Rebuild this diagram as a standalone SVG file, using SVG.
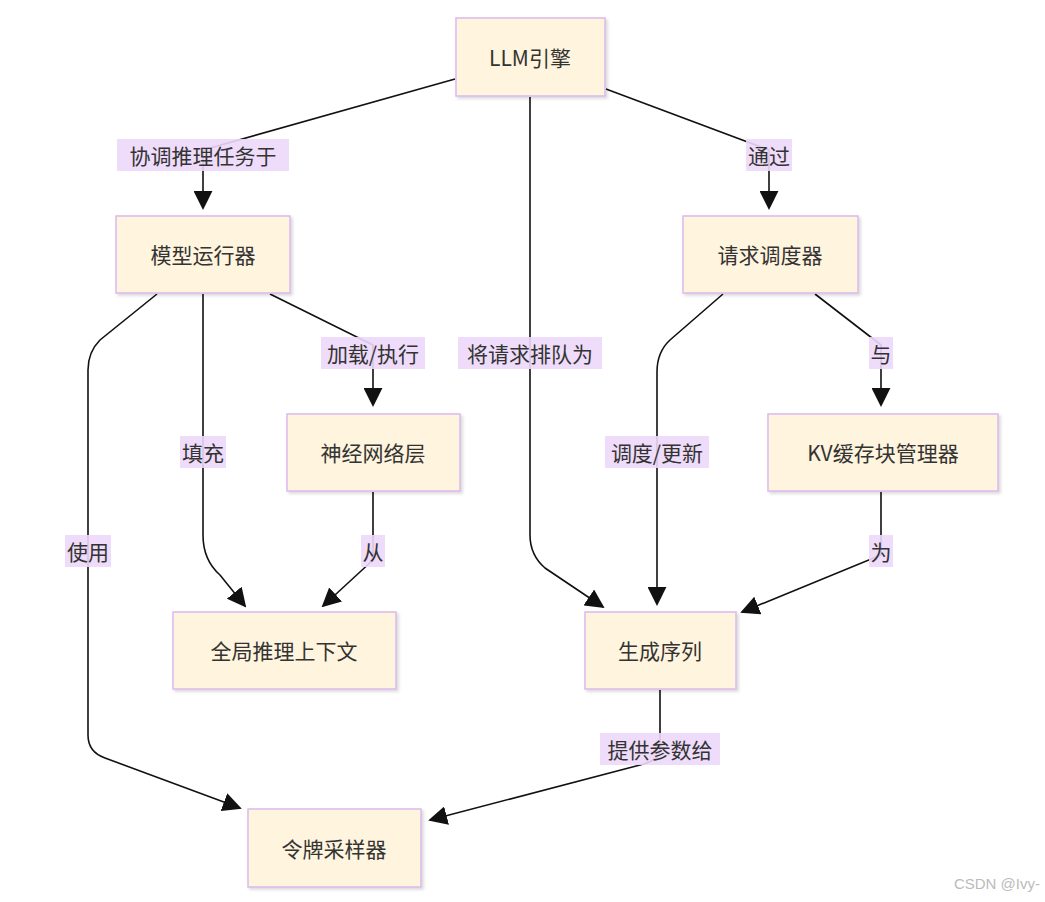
<svg xmlns="http://www.w3.org/2000/svg" width="1045" height="902" viewBox="0 0 1045 902">
<style>
.n rect{fill:#fff4dd;stroke:#dcb8ee;stroke-width:1.5;filter:url(#sh)}
.n text{font-family:"Noto Sans CJK SC","Liberation Sans",sans-serif;font-size:21px;fill:#333;text-anchor:middle;dominant-baseline:central}
.e path{fill:none;stroke:#111;stroke-width:1.6;marker-end:url(#ar)}
.l rect{fill:#ecd8fa;opacity:.9}
.l text{font-family:"Noto Sans CJK SC","Liberation Sans",sans-serif;font-size:21px;fill:#333;text-anchor:middle;dominant-baseline:central}
</style>
<defs>
<marker id="ar" viewBox="0 0 10 10" refX="9" refY="5" markerWidth="19" markerHeight="19" markerUnits="userSpaceOnUse" orient="auto"><path d="M0,0L10,5L0,10z" fill="#111"/></marker>
<filter id="sh" x="-10%" y="-10%" width="130%" height="130%"><feDropShadow dx="2" dy="2" stdDeviation="1.5" flood-color="#000" flood-opacity="0.15"/></filter>
</defs>
<rect width="1045" height="902" fill="#fff"/>
<g id="connectors" class="e">
<path d="M455,79L203,150V208"/>
<path d="M606,89L769,150V208"/>
<path d="M530,97V535Q530,555 545,568L603,607"/>
<path d="M157,294L100,340Q88,352 88,370V735Q88,752 105,758L240,808"/>
<path d="M203,294V535Q203,560 220,575L245,606"/>
<path d="M270,294L373,345V405"/>
<path d="M373,492V560L323,606"/>
<path d="M723,294L670,340Q657,352 657,372V604"/>
<path d="M815,294L881,345V405"/>
<path d="M881,492V555L742,612"/>
<path d="M660,690V750Q660,760 640,765L430,820"/>
</g>
<g class="l">
<rect x="117" y="139" width="172" height="32"/><text x="203" y="155">协调推理任务于</text>
<rect x="746" y="139" width="46" height="32"/><text x="769" y="155">通过</text>
<rect x="458" y="337" width="144" height="32"/><text x="530" y="353">将请求排队为</text>
<rect x="65" y="535" width="46" height="32"/><text x="88" y="551">使用</text>
<rect x="180" y="436" width="46" height="32"/><text x="203" y="452">填充</text>
<rect x="321" y="337" width="104" height="32"/><text x="373" y="353">加载/执行</text>
<rect x="361" y="535" width="24" height="32"/><text x="373" y="551">从</text>
<rect x="605" y="436" width="104" height="32"/><text x="657" y="452">调度/更新</text>
<rect x="869" y="337" width="24" height="32"/><text x="881" y="353">与</text>
<rect x="869" y="535" width="24" height="32"/><text x="881" y="551">为</text>
<rect x="600" y="733" width="120" height="32"/><text x="660" y="749">提供参数给</text>
</g>
<g id="llm" class="n"><rect x="456" y="18" width="149" height="78"/><text x="530" y="57">LLM引擎</text></g>
<g id="runner" class="n"><rect x="116" y="216" width="174" height="77"/><text x="203" y="254">模型运行器</text></g>
<g id="scheduler" class="n"><rect x="683" y="216" width="175" height="77"/><text x="770" y="254">请求调度器</text></g>
<g id="layers" class="n"><rect x="287" y="414" width="173" height="77"/><text x="373" y="452">神经网络层</text></g>
<g id="kv" class="n"><rect x="768" y="414" width="230" height="77"/><text x="883" y="452">KV缓存块管理器</text></g>
<g id="ctx" class="n"><rect x="173" y="612" width="223" height="77"/><text x="284" y="650">全局推理上下文</text></g>
<g id="seq" class="n"><rect x="585" y="612" width="151" height="77"/><text x="660" y="650">生成序列</text></g>
<g id="sampler" class="n"><rect x="248" y="809" width="173" height="78"/><text x="334" y="848">令牌采样器</text></g>
<text x="1040" y="889" font-family="Liberation Sans,sans-serif" font-size="15" fill="#bbb" text-anchor="end">CSDN @Ivy-</text>
</svg>
